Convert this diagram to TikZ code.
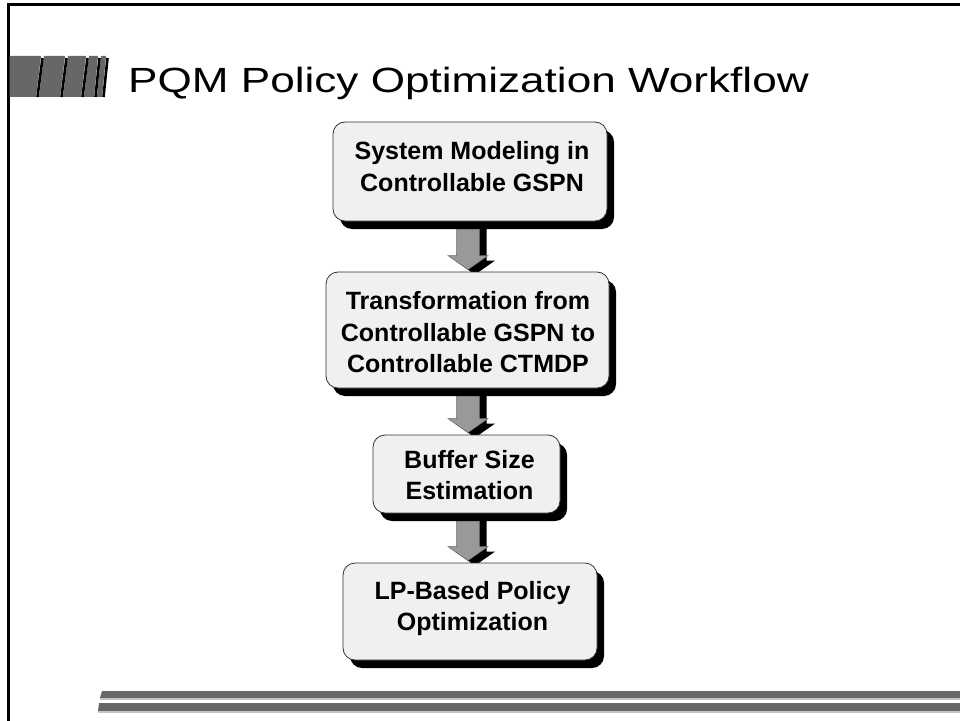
\documentclass[tikz,border=0pt]{standalone}
\usepackage{fontspec}
\setmainfont{Liberation Sans}
\usetikzlibrary{calc,shadows}
\pgfdeclarelayer{background}
\pgfsetlayers{background,main}

\definecolor{barGray}{HTML}{676767}
\definecolor{barLight}{HTML}{C4C4C4}
\definecolor{boxFill}{HTML}{F0F0F0}
\definecolor{arrowGray}{HTML}{999999}
\definecolor{edgeGray}{HTML}{333333}

\begin{document}
\begin{tikzpicture}[x=1bp,y=-1bp,
  stepbox/.style={draw=edgeGray, line width=0.8bp, fill=boxFill,
    rounded corners=12bp, inner sep=0pt,
    drop shadow={shadow xshift=7bp, shadow yshift=-8bp, fill=black, opacity=1}},
  boxlabel/.style={font=\fontsize{25bp}{31.7bp}\selectfont\bfseries,
    align=center, inner sep=0pt},
  arrowbody/.style={fill=arrowGray, draw=black!60, line width=0.5bp},
  frameline/.style={line width=2.5bp, draw=black},
  blockbar/.style={fill=barGray},
  blockedge/.style={line width=2.6bp, draw=black},
]
\useasboundingbox (0,0) rectangle (960,721);

% slide frame (left and top edges)
\draw[frameline] (8.3,721) -- (8.3,4.5) -- (960,4.5);

% title ornament: slanted gray blocks with dark edges
\fill[blockbar] (9.5,56) -- (41,56) -- (36,97) -- (9.5,97) -- cycle;
\fill[blockbar] (44,56) -- (65,56) -- (60,97) -- (39,97) -- cycle;
\fill[blockbar] (68,56) -- (86,56) -- (81,97) -- (63,97) -- cycle;
\fill[blockbar] (89,56) -- (98,56) -- (94,97) -- (84,97) -- cycle;
\fill[blockbar] (101,56) -- (106,56) -- (102,97) -- (97,97) -- cycle;
\draw[blockedge] (42.5,58) -- (37.5,97);
\draw[blockedge] (66.5,58) -- (61.5,97);
\draw[blockedge] (87.5,58) -- (82.5,97);
\draw[blockedge] (99.5,58) -- (95.5,97);
\draw[blockedge] (107.5,58) -- (103.5,97);

% title
\node[anchor=base west, inner sep=0pt, font=\fontsize{35bp}{40bp}\selectfont]
  (title) at (128,93) {\scalebox{1.26}[1]{PQM Policy Optimization Workflow}};

% footer bars
\fill[barGray] (102,691) -- (960,691) -- (960,698) -- (100,698) -- cycle;
\fill[barLight] (100,698) -- (960,698) -- (960,700) -- (100,700) -- cycle;
\fill[barGray] (99,703) -- (960,703) -- (960,711) -- (98,711) -- cycle;
\fill[barLight] (98,711) -- (960,711) -- (960,713) -- (98,713) -- cycle;

% workflow steps
\node[stepbox, minimum width=274bp, minimum height=99bp] (b1) at (470,171.5) {};
\node[stepbox, minimum width=283bp, minimum height=116bp] (b2) at (467.5,330) {};
\node[stepbox, minimum width=187bp, minimum height=78bp] (b3) at (466.5,474) {};
\node[stepbox, minimum width=254bp, minimum height=97bp] (b4) at (470,611.5) {};

\node[boxlabel] (t1) at (472,166.4) {System Modeling in\\Controllable GSPN};
\node[boxlabel] (t2) at (468,332.3) {Transformation from\\Controllable GSPN to\\Controllable CTMDP};
\node[boxlabel] (t3) at (469.5,475) {Buffer Size\\Estimation};
\node[boxlabel] (t4) at (472.5,608.6) {LP-Based Policy\\Optimization};

% block arrows between consecutive steps, behind the boxes
\begin{pgfonlayer}{background}
\foreach \src/\dst in {b1/b2,b2/b3,b3/b4}{
  \fill[black] let \p1=(\src.south), \p2=(\dst.north) in
    (463.5bp,\y1-5bp) -- (486.5bp,\y1-5bp) -- (486.5bp,\y2+11bp)
    -- (495bp,\y2+11bp) -- (475bp,\y2-3bp) -- (455bp,\y2+11bp)
    -- (463.5bp,\y2+11bp) -- cycle;
  \filldraw[arrowbody] let \p1=(\src.south), \p2=(\dst.north) in
    (456.5bp,\y1) -- (479.5bp,\y1) -- (479.5bp,\y2+16bp)
    -- (488bp,\y2+16bp) -- (468bp,\y2+2bp) -- (448bp,\y2+16bp)
    -- (456.5bp,\y2+16bp) -- cycle;
}
\end{pgfonlayer}
\end{tikzpicture}
\end{document}
